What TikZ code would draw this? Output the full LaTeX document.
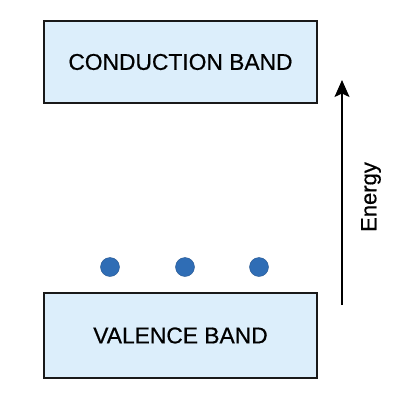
\documentclass[tikz,border=0pt]{standalone}
\usepackage{fontspec}
\setmainfont{Liberation Sans}[FakeBold=0.6]
\usetikzlibrary{arrows.meta}
\definecolor{bandfill}{HTML}{DCEEFB}
\definecolor{dotblue}{HTML}{2F6DB5}
\begin{document}
\begin{tikzpicture}[x=1pt,y=-1pt,
  band/.style={draw=black!90, line width=1.8pt, fill=bandfill, minimum width=273pt, inner sep=0pt, font=\fontsize{22.8}{27}\selectfont},
  electron/.style={circle, fill=dotblue, draw=dotblue!80!black, line width=0.4pt, minimum size=19pt, inner sep=0pt}]
\useasboundingbox (0,0) rectangle (400,400);
\fill[white] (0,0) rectangle (400,400);
\node[band, minimum height=82pt] (cb) at (180.5,62) {CONDUCTION BAND};
\node[band, minimum height=85pt] (vb) at (180.5,335.5) {VALENCE BAND};
\node[electron] (e1) at (110,267) {};
\node[electron] (e2) at (185,267) {};
\node[electron] (e3) at (259,267) {};
\coordinate (abot) at (342,305);
\coordinate (atop) at (342,80);
\draw[line width=1.5pt, -{Stealth[length=17pt,width=15pt,inset=3.5pt]}] (abot) -- (atop);
\node[rotate=90, font=\fontsize{22}{26}\selectfont, inner sep=0pt] (en) at (371,197) {Energy};
\end{tikzpicture}
\end{document}
